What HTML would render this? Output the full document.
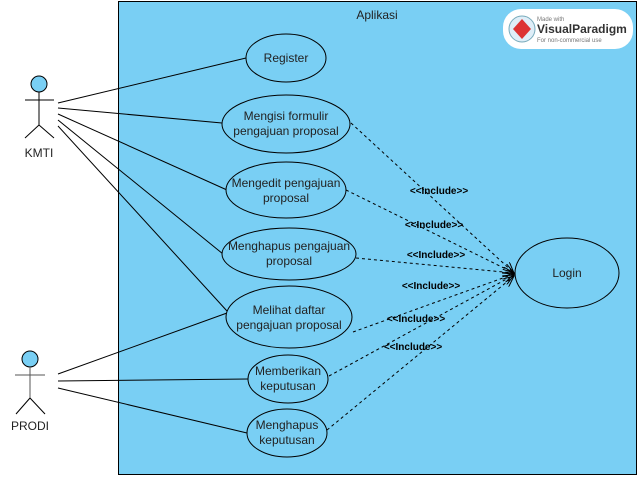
<!DOCTYPE html>
<html><head><style>
body{margin:0;background:#fff;}
svg{display:block;font-family:"Liberation Sans",sans-serif;}
</style></head><body>
<svg width="638" height="477" viewBox="0 0 638 477" xmlns="http://www.w3.org/2000/svg">
<defs><marker id="a" markerWidth="12" markerHeight="10" refX="11" refY="5" orient="auto" markerUnits="userSpaceOnUse"><path d="M0,0 L11,5 L0,10" fill="none" stroke="#000" stroke-width="1"/></marker></defs>
<rect x="118.5" y="1.5" width="518" height="473" fill="#79cff4" stroke="#000" stroke-width="1"/>
<text x="377" y="19" font-size="12" text-anchor="middle" fill="#222">Aplikasi</text>
<rect x="503" y="9" width="130" height="40" rx="18" fill="#fff"/>
<circle cx="522" cy="29" r="13" fill="#dfeef8" stroke="#7ab" stroke-width="1"/>
<path d="M522,19 L531,29 L522,39 L513,29Z" fill="#d33"/>
<text x="537" y="21" font-size="6" fill="#777">Made with</text>
<text x="537" y="33" font-size="12" font-weight="bold" fill="#333">VisualParadigm</text>
<text x="537" y="42" font-size="6" fill="#777">For non-commercial use</text>
<g fill="none" stroke="#000" stroke-width="1">
<line x1="58" y1="103" x2="246" y2="58"/>
<line x1="58" y1="108" x2="222" y2="123"/>
<line x1="58" y1="114" x2="227" y2="190"/>
<line x1="58" y1="120" x2="223" y2="254"/>
<line x1="58" y1="126" x2="227" y2="311"/>
<line x1="58" y1="374" x2="227" y2="313"/>
<line x1="58" y1="381" x2="248" y2="379"/>
<line x1="58" y1="388" x2="247" y2="433"/>
<g stroke-dasharray="3,3" marker-end="url(#a)">
<line x1="351" y1="123" x2="514" y2="273"/>
<line x1="346" y1="190" x2="514" y2="273"/>
<line x1="356" y1="258" x2="514" y2="273"/>
<line x1="353" y1="332" x2="514" y2="274"/>
<line x1="329" y1="376" x2="514" y2="275"/>
<line x1="327" y1="430" x2="514" y2="276"/>
</g>
</g>
<g fill="#79cff4" stroke="#000" stroke-width="1">
<ellipse cx="286" cy="58" rx="40" ry="24"/>
<ellipse cx="286" cy="124" rx="64" ry="29"/>
<ellipse cx="286" cy="190" rx="60" ry="28"/>
<ellipse cx="289" cy="254" rx="67" ry="26"/>
<ellipse cx="289" cy="317" rx="63" ry="31"/>
<ellipse cx="288" cy="379" rx="40" ry="24"/>
<ellipse cx="287" cy="433" rx="40" ry="24"/>
<ellipse cx="567" cy="273" rx="52" ry="35"/>
</g>
<g font-size="12" text-anchor="middle" fill="#222">
<text x="286" y="62">Register</text>
<text x="286" y="120">Mengisi formulir</text><text x="286" y="135">pengajuan proposal</text>
<text x="286" y="187">Mengedit pengajuan</text><text x="286" y="202">proposal</text>
<text x="289" y="250">Menghapus pengajuan</text><text x="289" y="265">proposal</text>
<text x="289" y="314">Melihat daftar</text><text x="289" y="329">pengajuan proposal</text>
<text x="288" y="375">Memberikan</text><text x="288" y="390">keputusan</text>
<text x="287" y="429">Menghapus</text><text x="287" y="444">keputusan</text>
<text x="567" y="277">Login</text>
<text x="39" y="157">KMTI</text>
<text x="30" y="430">PRODI</text>
</g>
<g font-size="10" font-weight="bold" text-anchor="middle" fill="#000">
<text x="439" y="194">&lt;&lt;Include&gt;&gt;</text>
<text x="434" y="228">&lt;&lt;Include&gt;&gt;</text>
<text x="436" y="258">&lt;&lt;Include&gt;&gt;</text>
<text x="431" y="289">&lt;&lt;Include&gt;&gt;</text>
<text x="416" y="322">&lt;&lt;Include&gt;&gt;</text>
<text x="413" y="350">&lt;&lt;Include&gt;&gt;</text>
</g>
<g stroke="#000" stroke-width="1" fill="#79cff4">
<circle cx="39" cy="84" r="8"/>
<line x1="39" y1="92" x2="39" y2="125"/><line x1="25" y1="100" x2="54" y2="100"/>
<line x1="39" y1="125" x2="25" y2="138"/><line x1="39" y1="125" x2="54" y2="138"/>
<circle cx="30" cy="359" r="8"/>
<line x1="30" y1="367" x2="30" y2="398" stroke="#555"/><line x1="15" y1="375" x2="45" y2="375" stroke="#555"/>
<line x1="30" y1="398" x2="16" y2="414"/><line x1="30" y1="398" x2="45" y2="414"/>
</g>
</svg>
</body></html>
